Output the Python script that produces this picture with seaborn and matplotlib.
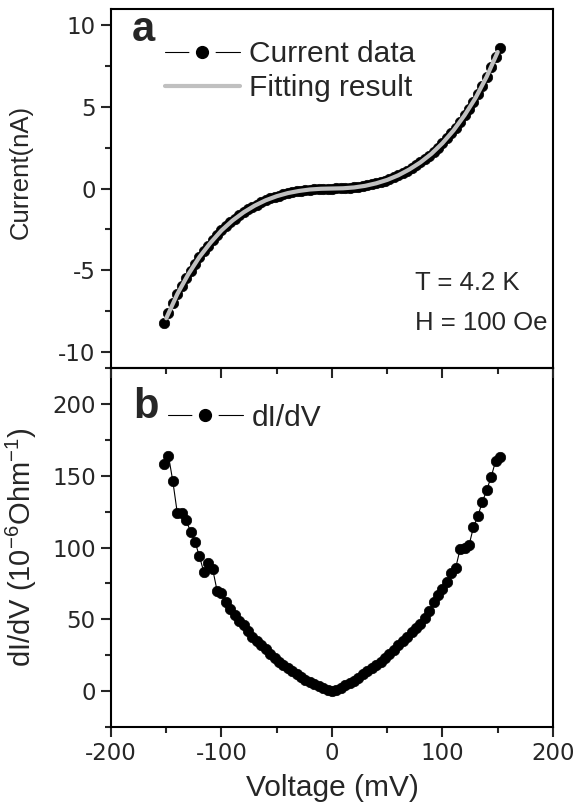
import matplotlib
matplotlib.use("Agg")
import matplotlib.pyplot as plt
import seaborn as sns
from matplotlib.lines import Line2D
from matplotlib.ticker import MultipleLocator

# ===== data =====
volt = [-152, -148, -144, -140, -136, -132, -128, -124, -120, -116, -112, -108, -104,
        -100, -96, -92, -88, -84, -80, -76, -72, -68, -64, -60, -56, -52, -48, -44,
        -40, -36, -32, -28, -24, -20, -16, -12, -8, -4, 0, 4, 8, 12, 16, 20, 24, 28,
        32, 36, 40, 44, 48, 52, 56, 60, 64, 68, 72, 76, 80, 84, 88, 92, 96, 100, 104,
        108, 112, 116, 120, 124, 128, 132, 136, 140, 144, 148, 152]

# current (nA)
current = [-8.27, -7.63, -7.01, -6.47, -5.97, -5.49, -5.03, -4.60, -4.20, -3.85, -3.50,
           -3.16, -2.85, -2.57, -2.31, -2.07, -1.85, -1.65, -1.46, -1.28, -1.12, -0.98,
           -0.84, -0.72, -0.61, -0.51, -0.43, -0.35, -0.28, -0.22, -0.17, -0.125, -0.089,
           -0.060, -0.037, -0.020, -0.009, -0.003, 0.0, 0.003, 0.009, 0.022, 0.041, 0.066,
           0.098, 0.14, 0.19, 0.25, 0.32, 0.40, 0.48, 0.58, 0.69, 0.81, 0.94, 1.09, 1.25,
           1.42, 1.60, 1.80, 2.01, 2.25, 2.50, 2.78, 3.07, 3.39, 3.73, 4.10, 4.49, 4.90,
           5.33, 5.80, 6.31, 6.85, 7.43, 8.05, 8.60]

# dI/dV (1e-6 Ohm^-1)
didv = [158.5, 164, 146, 124, 124, 119, 111, 104, 94, 83, 89, 85, 70, 68, 62, 57, 53,
        49, 46, 42, 38, 35, 32, 29, 26, 23, 20, 18, 16, 14, 12, 10, 8, 6.5, 5, 3.5, 2.2,
        1, 0.3, 1, 2.3, 4, 5.5, 7, 9, 12, 14, 16, 18, 20, 23, 26, 28.5, 32, 35, 38, 41,
        44, 47, 51, 56, 62, 67, 71, 76, 82, 86, 99, 100, 101.5, 114, 122, 131.5, 140,
        149, 160, 163]

# fitting curve
volt_fit = [-150, -140, -130, -120, -110, -100, -90, -80, -70, -60, -50, -40, -30, -20,
            -10, 0, 10, 20, 30, 40, 50, 60, 70, 80, 90, 100, 110, 120, 130, 140, 150]
current_fit = [-7.95, -6.47, -5.25, -4.20, -3.33, -2.57, -1.96, -1.46, -1.05, -0.72,
               -0.47, -0.28, -0.15, -0.06, -0.015, 0.0, 0.015, 0.066, 0.165, 0.32, 0.53,
               0.81, 1.17, 1.60, 2.13, 2.78, 3.56, 4.49, 5.56, 6.85, 8.37]

# ===== style =====
sns.set_theme(style="ticks")
plt.rcParams["font.family"] = ["Liberation Sans", "DejaVu Sans"]
plt.rcParams["mathtext.default"] = "regular"
plt.rcParams["axes.unicode_minus"] = False
plt.rcParams["axes.edgecolor"] = "black"
plt.rcParams["axes.linewidth"] = 1.5

fig, (ax1, ax2) = plt.subplots(2, 1, sharex=True, figsize=(5.76, 8.06), dpi=100)
fig.subplots_adjust(left=0.1927, right=0.960, top=0.9888, bottom=0.098, hspace=0)

# ----- panel a -----
sns.lineplot(x=volt, y=current, ax=ax1, color="black", lw=0.8, marker="o",
             markersize=7.5, markeredgecolor="black", markeredgewidth=0.5, legend=False)
sns.lineplot(x=volt_fit, y=current_fit, ax=ax1, color="#c0c0c0", lw=3, legend=False)
ax1.set_ylim(-11, 11)
ax1.yaxis.set_major_locator(MultipleLocator(5))
ax1.yaxis.set_minor_locator(MultipleLocator(2.5))
ax1.set_ylabel("Current(nA)", fontsize=18.5)
ax1.yaxis.set_label_coords(-0.176, 0.547)

# ----- panel b -----
sns.lineplot(x=volt, y=didv, ax=ax2, color="black", lw=0.8, marker="o",
             markersize=7.5, markeredgecolor="black", markeredgewidth=0.5, legend=False)
ax2.set_ylim(-25, 225)
ax2.yaxis.set_major_locator(MultipleLocator(50))
ax2.yaxis.set_minor_locator(MultipleLocator(25))
ax2.set_ylabel(r"dI/dV (10$^{-6}$Ohm$^{-1}$)", fontsize=21)
ax2.yaxis.set_label_coords(-0.163, 0.50)

ax2.set_xlim(-200, 200)
ax2.xaxis.set_major_locator(MultipleLocator(100))
ax2.xaxis.set_minor_locator(MultipleLocator(50))
ax2.set_xlabel("Voltage (mV)", fontsize=21.5)
ax2.xaxis.set_label_coords(0.5, -0.13)

for ax in (ax1, ax2):
    for s in ax.spines.values():
        s.set_visible(True)
        s.set_linewidth(1.5)
        s.set_color("black")
    ax.tick_params(which="major", length=7, width=1.5, direction="out",
                   labelsize=16.5, labelfontfamily="DejaVu Sans", pad=4)
    ax.tick_params(which="minor", length=4, width=1.5, direction="out")
    ax.tick_params(top=False, right=False, which="both")

ax1.tick_params(labelbottom=False)
# panel a on top so its bottom ticks show over panel b
ax1.set_zorder(ax2.get_zorder() + 1)
ax1.patch.set_alpha(0)

# ----- annotations -----
ax1.text(0.0475, 0.911, "a", transform=ax1.transAxes, fontsize=30,
         fontweight="bold", va="baseline", ha="left")
ax2.text(0.05, 0.861, "b", transform=ax2.transAxes, fontsize=30,
         fontweight="bold", va="baseline", ha="left")
ax1.text(0.688, 0.237, "T = 4.2 K", transform=ax1.transAxes, fontsize=18.5, va="center")
ax1.text(0.688, 0.126, "H = 100 Oe", transform=ax1.transAxes, fontsize=18.5, va="center")

# legends with gap around the dot, like the original
def dot_handle():
    ring = Line2D([], [], color="black", lw=0.8, marker="o", markersize=18,
                  markerfacecolor="white", markeredgecolor="white")
    dot = Line2D([], [], ls="none", marker="o", markersize=8.5, color="black")
    return (ring, dot)

fit_handle = Line2D([], [], color="#c0c0c0", lw=3)
ax1.legend([dot_handle(), fit_handle], ["Current data", "Fitting result"],
           loc="upper left", bbox_to_anchor=(0.122, 0.913), frameon=False,
           fontsize=21.5, handlelength=2.5, handletextpad=0.3, labelspacing=0.2,
           borderpad=0, borderaxespad=0)
ax2.legend([dot_handle()], ["dI/dV"], loc="upper left", bbox_to_anchor=(0.129, 0.90),
           frameon=False, fontsize=21.5, handlelength=2.5, handletextpad=0.3,
           borderpad=0, borderaxespad=0)

plt.savefig("out.png", dpi=100)
plt.close()
